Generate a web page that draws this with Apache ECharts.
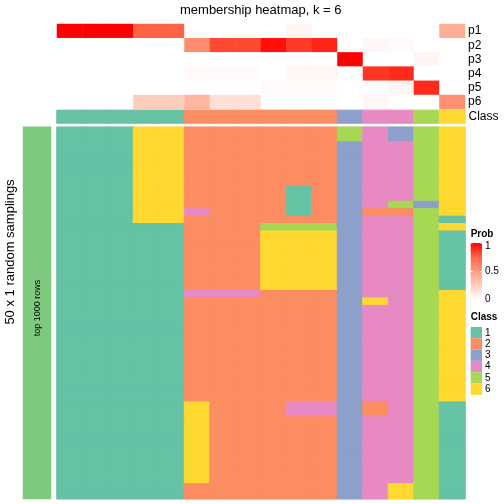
<!DOCTYPE html>
<html><head><meta charset="utf-8">
<script src="https://cdn.jsdelivr.net/npm/echarts@6/dist/echarts.min.js"></script>
<style>html,body{margin:0;padding:0;background:#fff}#c{width:504px;height:504px}</style>
</head><body><div id="c"></div>
<script>
// ---- data ----
const columns = ['c1','c2','c3','c4','c5','c6','c7','c8','c9','c10','c11','c12','c13','c14','c15','c16'];
const probRows = ['p1','p2','p3','p4','p5','p6'];
const p1 = [1, 1, 1, 0.76, 0.76, 0, 0, 0, 0, 0.05, 0, 0, 0, 0, 0, 0.42];
const p2 = [0, 0, 0, 0, 0, 0.58, 0.82, 0.82, 0.96, 0.86, 0.91, 0, 0.04, 0.02, 0, 0];
const p3 = [0, 0, 0, 0, 0, 0, 0, 0, 0, 0, 0, 1, 0, 0, 0.05, 0];
const p4 = [0, 0, 0, 0, 0, 0.03, 0.02, 0.02, 0, 0.04, 0.04, 0, 0.87, 0.9, 0, 0];
const p5 = [0, 0, 0, 0, 0, 0, 0, 0, 0.02, 0.02, 0.02, 0, 0, 0.05, 0.9, 0];
const p6 = [0, 0, 0, 0.26, 0.26, 0.38, 0.16, 0.16, 0, 0, 0, 0, 0.04, 0, 0, 0.57];
const classRow = [1,1,1,1,1,2,2,2,2,2,2,3,4,4,5,6];
// 50 random samplings (rows, top to bottom), one class digit per column
const samplings = [
 '1116622222254356','1116622222254356',
 '1116622222234456','1116622222234456','1116622222234456','1116622222234456','1116622222234456','1116622222234456',
 '1116622221234456','1116622221234456',
 '1116622221234536',
 '1116642221232256',
 '1116622222234451',
 '1111122255534456',
 '1111122266634451','1111122266634451','1111122266634451','1111122266634451',
 '1111122266634451','1111122266634451','1111122266634451','1111122266634451',
 '1111144422234456',
 '1111122222236456',
 '1111122222234456','1111122222234456','1111122222234456','1111122222234456','1111122222234456',
 '1111122222234456','1111122222234456','1111122222234456','1111122222234456','1111122222234456',
 '1111122222234456','1111122222234456','1111122222234456',
 '1111162224432451','1111162224432451',
 '1111162222234451','1111162222234451','1111162222234451','1111162222234451','1111162222234451',
 '1111162222234451','1111162222234451','1111162222234451','1111162222234451',
 '1111122222234651','1111122222234651'
];
const classLabels = ['1','2','3','4','5','6'];
const classColors = ['#66C2A5','#FC8D62','#8DA0CB','#E78AC3','#A6D854','#FFD92F'];
const probTicks = [1, 0.5, 0];
const probColors = ['#ffffff','#ffcfbf','#ff9e81','#ff6746','#ff0000'];

// ---- build ----
const FONT = "'Liberation Sans', Arial, Helvetica, sans-serif";
const probMatrix = [p1,p2,p3,p4,p5,p6];
const probData = [];
probMatrix.forEach((row, r) => row.forEach((v, c) => probData.push([c, r, v])));
const classItem = (c, r, v) => ({value:[c, r, v], itemStyle:{borderColor:classColors[v-1], borderWidth:1}});
const classData = classRow.map((v, c) => classItem(c, 0, v));
const sampData = [];
const sampIdx = samplings.map((_, i) => 's' + (i + 1));
samplings.forEach((s, r) => s.split('').forEach((ch, c) => sampData.push(classItem(c, r, +ch))));

const L = 57, W = 408;
const sampTop = 127.2, sampH = 371.6;

const xCat = (gi) => ({type:'category', gridIndex:gi, data:columns, show:false});

const graphics = [];
const Z = 100;
// left annotation text
graphics.push({type:'text', z:Z, x:10, y:252, rotation:Math.PI/2,
  style:{text:'50 x 1 random samplings', font:'13px ' + FONT, fill:'#000', align:'center', verticalAlign:'middle'}});
graphics.push({type:'text', z:Z, x:38, y:308, rotation:Math.PI/2,
  style:{text:'top 1000 rows', font:'9px ' + FONT, fill:'#000', align:'center', verticalAlign:'middle'}});
// Prob legend
const lx = 470.7, bw = 11.3, gTop = 243, gH = 57;
graphics.push({type:'text', z:Z, x:lx, y:234, style:{text:'Prob', font:'bold 10px ' + FONT, fill:'#000', verticalAlign:'middle'}});
graphics.push({type:'rect', z:Z, shape:{x:lx, y:gTop, width:bw, height:gH},
  style:{fill:{type:'linear', x:0, y:0, x2:0, y2:1, colorStops:
    probColors.slice().reverse().map((c, i) => ({offset:i/(probColors.length-1), color:c}))}}});
probTicks.forEach(t => {
  const y = gTop + (1 - t) * gH;
  graphics.push({type:'line', z:Z, shape:{x1:lx, y1:y, x2:lx+2, y2:y}, style:{stroke:'#fff', lineWidth:1}});
  graphics.push({type:'line', z:Z, shape:{x1:lx+bw-2, y1:y, x2:lx+bw, y2:y}, style:{stroke:'#fff', lineWidth:1}});
  const ty = t === 1 ? y + 3 : (t === 0 ? y - 1 : y);
  graphics.push({type:'text', z:Z, x:lx+bw+3, y:ty, style:{text:String(t), font:'10px ' + FONT, fill:'#000', verticalAlign:'middle'}});
});
// Class legend
graphics.push({type:'text', z:Z, x:lx, y:317, style:{text:'Class', font:'bold 10px ' + FONT, fill:'#000', verticalAlign:'middle'}});
classLabels.forEach((lab, i) => {
  const y = 327 + i * 11.3;
  graphics.push({type:'rect', z:Z, shape:{x:lx, y:y, width:bw, height:11.3}, style:{fill:classColors[i]}});
  graphics.push({type:'text', z:Z, x:lx+bw+3, y:y+5.8, style:{text:lab, font:'10px ' + FONT, fill:'#000', verticalAlign:'middle'}});
});

const chart = echarts.init(document.getElementById('c'), null, {renderer:'canvas'});
chart.setOption({
  animation:false,
  backgroundColor:'#fff',
  textStyle:{fontFamily:FONT},
  title:{text:'membership heatmap, k = 6', left:180, top:4, padding:0,
    textStyle:{fontSize:13, fontWeight:'normal', color:'#000', fontFamily:FONT}},
  grid:[
    {left:L, top:24, width:W, height:85.2},
    {left:L, top:110.4, width:W, height:12.6},
    {left:L, top:sampTop, width:W, height:sampH},
    {left:23, top:126.7, width:28, height:372.3}
  ],
  xAxis:[xCat(0), xCat(1), xCat(2), {type:'category', gridIndex:3, data:['a'], show:false}],
  yAxis:[
    {type:'category', gridIndex:0, data:probRows, inverse:true, position:'right',
      axisLine:{show:false}, axisTick:{show:false}, splitLine:{show:false},
      axisLabel:{interval:0, fontSize:12, color:'#000', margin:3, fontFamily:FONT}},
    {type:'category', gridIndex:1, data:['Class'], position:'right',
      axisLine:{show:false}, axisTick:{show:false}, splitLine:{show:false},
      axisLabel:{interval:0, fontSize:12, color:'#000', margin:3.5, fontFamily:FONT}},
    {type:'category', gridIndex:2, data:sampIdx, inverse:true, show:false},
    {type:'category', gridIndex:3, data:['b'], show:false}
  ],
  visualMap:[
    {type:'continuous', show:false, min:0, max:1, dimension:2, seriesIndex:0,
      inRange:{color:probColors}},
    {type:'piecewise', show:false, dimension:2, seriesIndex:[1,2],
      pieces:classLabels.map((lab, i) => ({value:+lab, color:classColors[i]}))}
  ],
  series:[
    {type:'heatmap', xAxisIndex:0, yAxisIndex:0, data:probData, emphasis:{disabled:true}, itemStyle:{borderWidth:0}},
    {type:'heatmap', xAxisIndex:1, yAxisIndex:1, data:classData, emphasis:{disabled:true}},
    {type:'heatmap', xAxisIndex:2, yAxisIndex:2, data:sampData, emphasis:{disabled:true}},
    {type:'heatmap', xAxisIndex:3, yAxisIndex:3, data:[[0,0,1]], emphasis:{disabled:true}, itemStyle:{color:'#7FC97F', borderWidth:0}}
  ],
  graphic:graphics
});
</script></body></html>
